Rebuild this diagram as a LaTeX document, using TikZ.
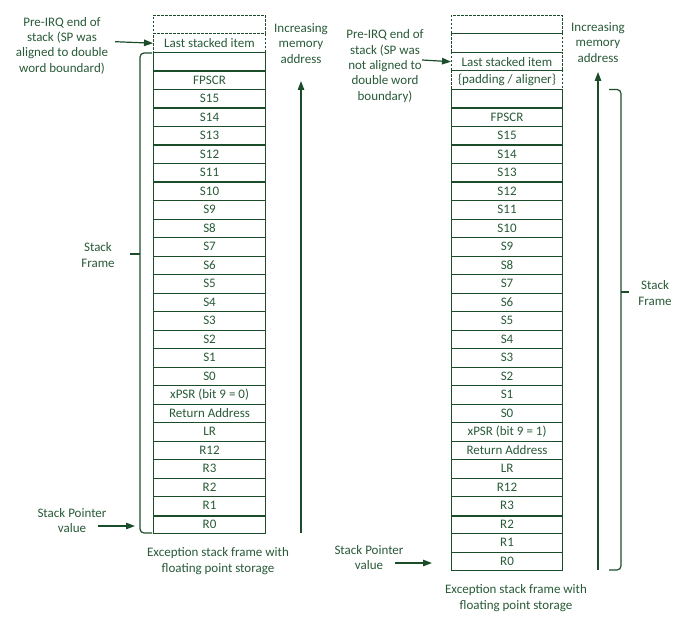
\documentclass[tikz,border=0pt]{standalone}
\usepackage{fontspec}
\setmainfont{Carlito}
\usetikzlibrary{arrows.meta}
\definecolor{dg}{RGB}{27,77,43}
\definecolor{tg}{RGB}{40,90,55}
\tikzset{
  cell/.style={draw=dg, line width=1.1bp, minimum height=18.5bp, inner sep=0pt, anchor=north west, text=tg, font=\fontsize{13bp}{15.5bp}\selectfont},
  dcell/.style={cell, dashed, dash pattern=on 2.5bp off 1.5bp, line width=0.9bp},
  lbl/.style={align=center, text=tg, inner sep=0pt, font=\fontsize{13bp}{15.4bp}\selectfont},
  arr/.style={draw=dg, line width=1.2bp, -{Triangle[length=9bp,width=6.5bp]}},
  brk/.style={draw=dg, line width=1.2bp, rounded corners=4bp},
}
\begin{document}
\begin{tikzpicture}[x=1bp,y=-1bp]
\useasboundingbox (0,0) rectangle (686,621);
% ---------- left column ----------
\node[dcell, minimum width=112bp] (lt0) at (153,15) {};
\node[dcell, minimum width=112bp] (lt1) at (153,33.5) {Last stacked item};
\foreach \t [count=\i from 0] in {{}, FPSCR, S15, S14, S13, S12, S11, S10, S9, S8, S7, S6, S5, S4, S3, S2, S1, S0, {xPSR (bit 9 = 0)}, {Return Address}, LR, R12, R3, R2, R1, R0}
  \node[cell, minimum width=112bp] (lc\i) at (153,{52+18.5*\i}) {\t};
\draw[dg, line width=2.2bp] (lc24.south west) -- (lc24.south east);
% ---------- right column ----------
\node[dcell, minimum width=111bp] (rt0) at (451,15) {};
\node[dcell, minimum width=111bp] (rt1) at (451,33.5) {};
\node[dcell, minimum width=111bp] (rt2) at (451,52) {Last stacked item};
\node[dcell, minimum width=111bp] (rt3) at (451,70.5) {\{padding / aligner\}};
\foreach \t [count=\i from 0] in {{}, FPSCR, S15, S14, S13, S12, S11, S10, S9, S8, S7, S6, S5, S4, S3, S2, S1, S0, {xPSR (bit 9 = 1)}, {Return Address}, LR, R12, R3, R2, R1, R0}
  \node[cell, minimum width=111bp] (rc\i) at (451,{89+18.5*\i}) {\t};
\draw[dg, line width=2.2bp] (rc22.south west) -- (rc22.south east);
% ---------- left labels ----------
\node[lbl] (lpre) at (62,45.5) {Pre-IRQ end of\\stack (SP was\\aligned to double\\word boundard)};
\coordinate (lpreA) at (115,41.7);
\draw[arr] (lpreA) -- (lt1.west);
\node[lbl] (linc) at (301,43.5) {Increasing\\memory\\address};
\coordinate (lupB) at (301,533);
\coordinate (lupT) at (301,81);
\draw[arr] (lupB) -- (lupT);
\draw[brk] (152,53) -- (140,53) -- (140,533) -- (152,533);
\coordinate (lbt) at (140,254);
\coordinate (lbs) at (130,254);
\draw[dg, line width=1.2bp] (lbt) -- (lbs);
\node[lbl] (lsf) at (98,255) {Stack\\Frame};
\node[lbl] (lsp) at (72,520.5) {Stack Pointer\\value};
\coordinate (lspA) at (98,526);
\coordinate (lspB) at (135,526);
\draw[arr] (lspA) -- (lspB);
\node[lbl] (lexc) at (218,561) {Exception stack frame with\\floating point storage};
% ---------- right labels ----------
\node[lbl] (rpre) at (385,66) {Pre-IRQ end of\\stack (SP was\\not aligned to\\double word\\boundary)};
\coordinate (rpreA) at (422,60);
\draw[arr] (rpreA) -- (rt2.west);
\node[lbl] (rinc) at (598,42.5) {Increasing\\memory\\address};
\coordinate (rupB) at (598,570);
\coordinate (rupT) at (598,72);
\draw[arr] (rupB) -- (rupT);
\draw[brk] (609,89.5) -- (621,89.5) -- (621,570) -- (609,570);
\coordinate (rbt) at (621,292);
\coordinate (rbs) at (629,292);
\draw[dg, line width=1.2bp] (rbt) -- (rbs);
\node[lbl] (rsf) at (655,293) {Stack\\Frame};
\node[lbl] (rsp) at (369,557.5) {Stack Pointer\\value};
\coordinate (rspA) at (395,563);
\coordinate (rspB) at (432,563);
\draw[arr] (rspA) -- (rspB);
\node[lbl] (rexc) at (516,598) {Exception stack frame with\\floating point storage};
\end{tikzpicture}
\end{document}
